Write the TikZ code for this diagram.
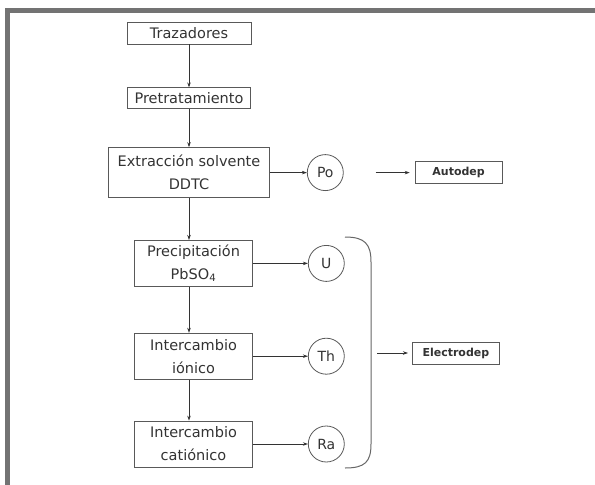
\documentclass[tikz,border=0pt]{standalone}
\usepackage{fontspec}
\setmainfont{DejaVu Sans}
\usetikzlibrary{positioning, arrows.meta}

\begin{document}
\begin{tikzpicture}[
    x=1pt, y=1pt,
    every node/.style={text=black!80},
    box/.style={draw=black!65, line width=0.8pt, rectangle, align=center, inner sep=1pt, font=\fontsize{14.5}{23}\selectfont},
    circ/.style={draw=black!65, line width=0.8pt, circle, minimum size=36pt, inner sep=0pt, font=\fontsize{14}{16}\selectfont},
    lbl/.style={draw=black!65, line width=0.8pt, rectangle, minimum width=87pt, minimum height=22pt, inner sep=1pt, font=\fontsize{11}{13}\selectfont\bfseries},
    arr/.style={-{Stealth[length=5pt, width=3.5pt]}, black!80, line width=0.7pt}
]
    \useasboundingbox (0,0) rectangle (595,-485);
    % frame
    \draw[black!55, line width=4.5pt, line join=miter] (7.5,-485) -- (7.5,-10.5) -- (595,-10.5);

    % main column
    \node[box, minimum width=124pt, minimum height=22pt] (traz) at (189,-33) {Trazadores};
    \node[box, minimum width=123pt, minimum height=21pt] (pre) [below=43pt of traz] {Pretratamiento};
    \node[box, minimum width=161pt, minimum height=50pt] (ext) [below=38pt of pre] {Extracción solvente\\DDTC};
    \node[box, minimum width=118pt, minimum height=46pt] (prec) [below=42pt of ext, xshift=4.5pt] {Precipitación\\PbSO\textsubscript{4}};
    \node[box, minimum width=118pt, minimum height=46pt] (ion) [below=46pt of prec] {Intercambio\\iónico};
    \node[box, minimum width=118pt, minimum height=46pt] (cat) [below=41pt of ion] {Intercambio\\catiónico};

    % elements
    \node[circ] (po) [right=37pt of ext] {Po};
    \node[circ] (u) [right=55pt of prec] {U};
    \node[circ] (th) [right=55pt of ion] {Th};
    \node[circ] (ra) [right=55pt of cat] {Ra};

    \node[lbl] (auto) [right=71pt of po] {Autodep};

    % bracket
    \coordinate (brtop) at (345,-237);
    \coordinate (brbot) at (345,-468);
    \coordinate (br) at (371,-353);
    \draw[black!60, line width=1pt] (brtop) .. controls (365,-237) and (371,-244) .. (371,-262)
        -- (371,-444) .. controls (371,-462) and (365,-468) .. (brbot);
    \node[lbl] (elec) [right=41pt of br] {Electrodep};

    \draw[arr] (traz) -- (pre);
    \draw[arr] (pre) -- (ext);
    \draw[arr] (ext.south) -- (ext.south |- prec.north);
    \draw[arr] (prec.south -| ext.south) -- (ion.north -| ext.south);
    \draw[arr] (ion.south -| ext.south) -- (cat.north -| ext.south);

    \draw[arr] (ext) -- (po);
    \draw[arr] (prec) -- (u);
    \draw[arr] (ion) -- (th);
    \draw[arr] (cat) -- (ra);
    \draw[arr, shorten <=32pt, shorten >=5pt] (po) -- (auto);
    \draw[arr, shorten <=6pt, shorten >=4pt] (br) -- (elec);
\end{tikzpicture}
\end{document}
